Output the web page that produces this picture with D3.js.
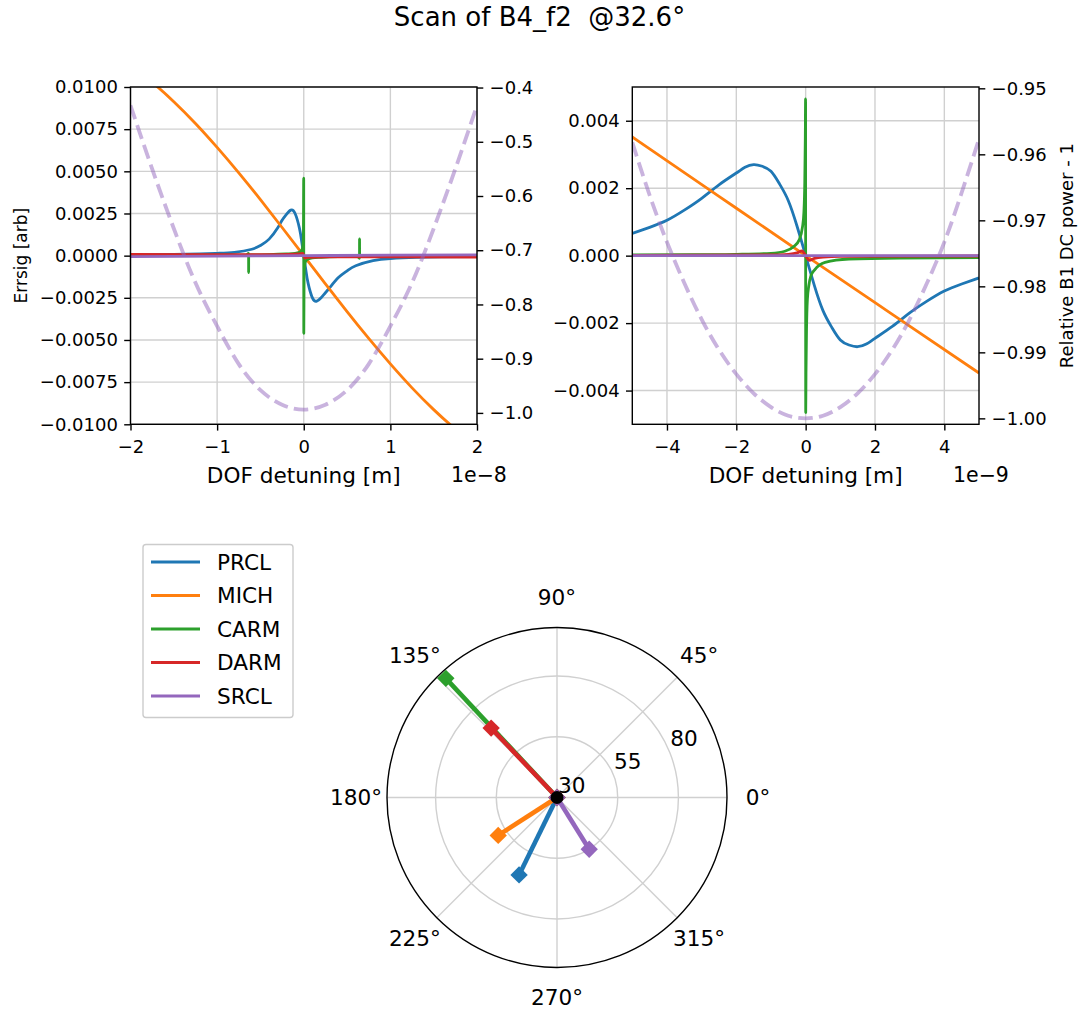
<!DOCTYPE html>
<html><head><meta charset="utf-8">
<script src="https://cdnjs.cloudflare.com/ajax/libs/d3/7.8.5/d3.min.js"></script>
<style>
body{margin:0;background:#fff}
text{font-family:"DejaVu Sans",sans-serif;fill:#000}
</style></head>
<body><svg id="c" width="1079" height="1009"></svg>
<script>
// ---------------- DATA ----------------
const seriesNames = ["PRCL","MICH","CARM","DARM","SRCL"];
const seriesColors = ["#1f77b4","#ff7f0e","#2ca02c","#d62728","#9467bd"];
const titleText = "Scan of B4_f2  @32.6°";

// Left panel (x in units of 1e-8 m)
const L_xTicks = [-2,-1,0,1,2];
const L_yTicks = [-0.01,-0.0075,-0.005,-0.0025,0,0.0025,0.005,0.0075,0.01];
const L_y2Ticks = [-1.0,-0.9,-0.8,-0.7,-0.6,-0.5,-0.4];

const L_PRCL_x = [-2,-1.5,-1.2,-1,-0.8,-0.6,-0.5,-0.4,-0.3,-0.25,-0.2,-0.15,-0.1,-0.05,-0.025,0,0.025,0.05,0.1,0.15,0.2,0.25,0.3,0.4,0.5,0.6,0.8,1,1.3,1.6,2];
const L_PRCL_y = [0.00004,0.00007,0.0001,0.00014,0.0002,0.00038,0.0006,0.00098,0.00165,0.0021,0.00245,0.0027,0.0025,0.00163,0.00088,0,-0.00088,-0.00163,-0.0025,-0.0027,-0.0025,-0.0022,-0.0019,-0.0013,-0.0009,-0.0006,-0.0003,-0.00017,-0.0001,-0.00007,-0.00005];

const L_MICH_x = [-2,-1.75,-1.5,-1.25,-1,-0.75,-0.5,-0.25,0,0.25,0.5,0.75,1,1.25,1.5,1.75,2];
const L_MICH_y = [0.01128,0.01028,0.00913,0.00784,0.00642,0.00491,0.00332,0.00167,0,-0.00167,-0.00332,-0.00491,-0.00642,-0.00784,-0.00913,-0.01028,-0.01128];

const L_CARM_x = [-2,-1.5,-1,-0.8,-0.66,-0.6366,-0.6362,-0.6358,-0.62,-0.4,-0.2,-0.1,-0.05,-0.02,-0.01,-0.004,-0.0005,0.0005,0.004,0.01,0.02,0.05,0.1,0.2,0.4,0.62,0.6438,0.6442,0.6446,0.66,0.8,1,1.5,2];
const L_CARM_y = [0.00002,0.00002,0.00003,0.00003,0.00004,0.00014,-0.001,0.00004,0.00004,0.00006,0.0001,0.00013,0.0002,0.00035,0.0006,0.0012,0.0046,-0.0046,-0.0012,-0.0006,-0.00035,-0.0002,-0.00013,-0.0001,-0.00006,-0.00004,-0.00016,0.001,-0.00004,-0.00004,-0.00003,-0.00003,-0.00002,-0.00002];

const L_DARM_x = [-2,-1,-0.3,-0.05,-0.01,0,0.01,0.05,0.3,1,2];
const L_DARM_y = [0.00007,0.00006,0.00006,0.0001,0.00014,0,-0.00014,-0.0001,-0.00007,-0.00007,-0.00008];

const L_SRCL_x = [-2,-1,0,1,2];
const L_SRCL_y = [-0.00006,-0.00003,0,0.00003,0.00005];

const L_POW_x = [-2,-1.75,-1.5,-1.25,-1,-0.75,-0.5,-0.25,0,0.25,0.5,0.75,1,1.25,1.5,1.75,2];
const L_POW_y = [-0.433,-0.55,-0.66,-0.76,-0.84,-0.91,-0.958,-0.985,-0.994,-0.985,-0.958,-0.91,-0.84,-0.76,-0.66,-0.55,-0.433];

// Right panel (x in units of 1e-9 m)
const R_xTicks = [-4,-2,0,2,4];
const R_yTicks = [-0.004,-0.002,0,0.002,0.004];
const R_y2Ticks = [-1.0,-0.99,-0.98,-0.97,-0.96,-0.95];

const R_PRCL_x = [-5,-4.5,-4,-3.5,-3,-2.5,-2,-1.75,-1.5,-1.25,-1,-0.75,-0.5,-0.25,0,0.25,0.5,0.75,1,1.25,1.5,1.75,2,2.5,3,3.5,4,4.5,5];
const R_PRCL_y = [0.00066,0.00084,0.00105,0.00135,0.0017,0.0021,0.00245,0.00262,0.0027,0.00265,0.0025,0.00212,0.00163,0.00088,0,-0.00088,-0.00163,-0.00212,-0.0025,-0.00265,-0.0027,-0.00262,-0.00245,-0.0021,-0.0017,-0.00135,-0.00105,-0.00084,-0.00066];

const R_MICH_x = [-5,-2.5,0,2.5,5];
const R_MICH_y = [0.00352,0.00176,0,-0.00174,-0.00348];

const R_CARM_x = [-5,-3,-2,-1,-0.6,-0.34,-0.19,-0.09,-0.05,-0.025,-0.01,-0.002,0.002,0.01,0.025,0.05,0.09,0.15,0.26,0.56,1.25,2.7,5];
const R_CARM_y = [0.00002,0.00003,0.00004,0.00007,0.00013,0.00027,0.00046,0.00086,0.0013,0.0022,0.0035,0.00465,-0.00465,-0.0035,-0.0022,-0.0013,-0.0009,-0.0006,-0.00042,-0.0002,-0.0001,-0.00007,-0.00006];

const R_DARM_x = [-5,-1,-0.5,-0.25,-0.1,0,0.1,0.25,0.5,1,5];
const R_DARM_y = [0.00001,0.00002,0.00004,0.00008,0.00014,0,-0.00014,-0.00008,-0.00004,-0.00002,-0.00001];

const R_SRCL_x = [-5,0,5];
const R_SRCL_y = [0,0,0];

const R_POW_x = [-5,-4.5,-4,-3.5,-3,-2.5,-2,-1.5,-1,-0.5,0,0.5,1,1.5,2,2.5,3,3.5,4,4.5,5];
const R_POW_y = [-0.9582,-0.9662,-0.9733,-0.9795,-0.985,-0.9896,-0.9933,-0.9962,-0.9983,-0.9996,-1.0,-0.9996,-0.9983,-0.9962,-0.9933,-0.9896,-0.985,-0.9795,-0.9733,-0.9658,-0.9577];

// Polar panel
const polarAngleDeg = [243.9, 212.8, 133.0, 133.5, 301.9];
const polarRadius   = [65.5, 58.8, 97.1, 69.4, 55.1];
const polarRTicks = [30,55,80];
const polarThetaTicks = [0,45,90,135,180,225,270,315];

// ---------------- DRAW ----------------
const svg = d3.select("#c");
const zip = (xs, ys) => xs.map((v,i)=>[v, ys[i]]);
const GRID = "#d0d0d0";
const curves = [d3.curveNatural, d3.curveNatural, d3.curveMonotoneX, d3.curveMonotoneX, d3.curveMonotoneX];

svg.append("text").attr("x",539.5).attr("y",26).attr("text-anchor","middle")
  .attr("xml:space","preserve").style("white-space","pre")
  .style("font-size","26px").text(titleText);

function panel(cfg){
  const g = svg.append("g");
  const x = d3.scaleLinear().domain(cfg.xDom).range([cfg.x0,cfg.x1]);
  const y = d3.scaleLinear().domain(cfg.yDom).range([cfg.y1,cfg.y0]);
  const y2 = d3.scaleLinear().domain(cfg.y2Dom).range([cfg.y1,cfg.y0]);
  const cid = "clip"+cfg.id;
  svg.append("clipPath").attr("id",cid).append("rect")
    .attr("x",cfg.x0).attr("y",cfg.y0).attr("width",cfg.x1-cfg.x0).attr("height",cfg.y1-cfg.y0);
  // grid
  g.selectAll(".gx").data(cfg.xTicks).join("line")
    .attr("x1",d=>x(d)).attr("x2",d=>x(d)).attr("y1",cfg.y0).attr("y2",cfg.y1)
    .attr("stroke",GRID).attr("stroke-width",1.4);
  g.selectAll(".gy").data(cfg.yTicks).join("line")
    .attr("y1",d=>y(d)).attr("y2",d=>y(d)).attr("x1",cfg.x0).attr("x2",cfg.x1)
    .attr("stroke",GRID).attr("stroke-width",1.4);
  // series
  const lg = g.append("g").attr("clip-path",`url(#${cid})`);
  cfg.series.forEach((s,i)=>{
    const line = d3.line().x(d=>x(d[0])).y(d=>y(d[1])).curve(curves[i]);
    lg.append("path").attr("d",line(zip(s[0],s[1]))).attr("fill","none")
      .attr("stroke",seriesColors[i]).attr("stroke-width",2.8).attr("stroke-linejoin","round");
  });
  const line2 = d3.line().x(d=>x(d[0])).y(d=>y2(d[1])).curve(d3.curveNatural);
  lg.append("path").attr("d",line2(zip(cfg.pow[0],cfg.pow[1]))).attr("fill","none")
    .attr("stroke","#9467bd").attr("stroke-opacity",0.5).attr("stroke-width",3.8)
    .attr("stroke-dasharray","14.5,6.3");
  // axes
  const fs = "18px";
  const ax = g.append("g").attr("transform",`translate(0,${cfg.y1})`)
    .call(d3.axisBottom(x).tickValues(cfg.xTicks).tickFormat(d3.format("d")).tickSize(6.3).tickPadding(10));
  const ay = g.append("g").attr("transform",`translate(${cfg.x0},0)`)
    .call(d3.axisLeft(y).tickValues(cfg.yTicks).tickFormat(d3.format(cfg.yFmt)).tickSize(6.3).tickPadding(6.3));
  const ay2 = g.append("g").attr("transform",`translate(${cfg.x1},0)`)
    .call(d3.axisRight(y2).tickValues(cfg.y2Ticks).tickFormat(d3.format(cfg.y2Fmt)).tickSize(6.3).tickPadding(6.3));
  [ax,ay,ay2].forEach(a=>{
    a.select(".domain").remove();
    a.selectAll("line").attr("stroke","#000").attr("stroke-width",1.4);
    a.selectAll("text").style("font-size",fs).style("font-family","DejaVu Sans").attr("fill","#000");
  });
  // spines
  g.append("rect").attr("x",cfg.x0).attr("y",cfg.y0).attr("width",cfg.x1-cfg.x0).attr("height",cfg.y1-cfg.y0)
    .attr("fill","none").attr("stroke","#000").attr("stroke-width",1.4);
  // labels
  g.append("text").attr("x",(cfg.x0+cfg.x1)/2).attr("y",483).attr("text-anchor","middle")
    .style("font-size","21.6px").text("DOF detuning [m]");
  g.append("text").attr("x",cfg.x1-26).attr("y",482).style("font-size","20.5px").text(cfg.offset);
  if(cfg.ylabel){
    g.append("text").attr("transform",`translate(${cfg.ylabelX},${(cfg.y0+cfg.y1)/2}) rotate(-90)`)
      .attr("text-anchor","middle").attr("dy","0.35em").style("font-size",cfg.ylabelSize).text(cfg.ylabel);
  }
  if(cfg.y2label){
    g.append("text").attr("transform",`translate(${cfg.y2labelX},${(cfg.y0+cfg.y1)/2}) rotate(-90)`)
      .attr("text-anchor","middle").attr("dy","0.35em").style("font-size","18px").text(cfg.y2label);
  }
}

panel({id:"L", x0:130.5, x1:477, y0:87, y1:424.3,
  xDom:[-2,2], yDom:[-0.01,0.01], y2Dom:[-1.021,-0.399],
  xTicks:L_xTicks, yTicks:L_yTicks, y2Ticks:L_y2Ticks, yFmt:".4f", y2Fmt:".1f",
  series:[[L_PRCL_x,L_PRCL_y],[L_MICH_x,L_MICH_y],[L_CARM_x,L_CARM_y],[L_DARM_x,L_DARM_y],[L_SRCL_x,L_SRCL_y]],
  pow:[L_POW_x,L_POW_y], offset:"1e\u22128",
  ylabel:"Errsig [arb]", ylabelX:21, ylabelSize:"17px"});

panel({id:"R", x0:632.3, x1:979, y0:87, y1:424.3,
  xDom:[-5,5], yDom:[-0.005,0.005], y2Dom:[-1.0009,-0.9498],
  xTicks:R_xTicks, yTicks:R_yTicks, y2Ticks:R_y2Ticks, yFmt:".3f", y2Fmt:".2f",
  series:[[R_PRCL_x,R_PRCL_y],[R_MICH_x,R_MICH_y],[R_CARM_x,R_CARM_y],[R_DARM_x,R_DARM_y],[R_SRCL_x,R_SRCL_y]],
  pow:[R_POW_x,R_POW_y], offset:"1e\u22129",
  y2label:"Relative B1 DC power - 1", y2labelX:1067});

// ---------------- POLAR ----------------
const pc = {x:557, y:797.5}, pR = 170;
const rS = d3.scaleLinear().domain([30,100]).range([0,pR]);
const pg = svg.append("g").attr("transform",`translate(${pc.x},${pc.y})`);
const pt = (deg, r) => [rS(r)*Math.cos(deg*Math.PI/180), -rS(r)*Math.sin(deg*Math.PI/180)];
pg.selectAll(".spoke").data(polarThetaTicks).join("line")
  .attr("x1",0).attr("y1",0)
  .attr("x2",d=>pR*Math.cos(d*Math.PI/180)).attr("y2",d=>-pR*Math.sin(d*Math.PI/180))
  .attr("stroke",GRID).attr("stroke-width",1.4);
pg.selectAll(".ring").data(polarRTicks.filter(d=>d>30)).join("circle")
  .attr("r",d=>rS(d)).attr("fill","none").attr("stroke",GRID).attr("stroke-width",1.4);
pg.append("circle").attr("r",pR).attr("fill","none").attr("stroke","#000").attr("stroke-width",1.4);
pg.selectAll(".tl").data(polarThetaTicks).join("text")
  .attr("x",d=>201*Math.cos(d*Math.PI/180)).attr("y",d=>-200*Math.sin(d*Math.PI/180))
  .attr("text-anchor","middle").attr("dy","0.34em").style("font-size","21.6px").text(d=>d+"°");
pg.selectAll(".rl").data(polarRTicks).join("text")
  .attr("x",d=>rS(d)*Math.cos(22.5*Math.PI/180)+1)
  .attr("y",d=>-rS(d)*Math.sin(22.5*Math.PI/180)-5)
  .style("font-size","21.6px").text(d=>d);
const diamond = d3.symbol().type(d3.symbolSquare).size(150);
seriesNames.forEach((n,i)=>{
  const p = pt(polarAngleDeg[i], polarRadius[i]);
  pg.append("line").attr("x1",0).attr("y1",0).attr("x2",p[0]).attr("y2",p[1])
    .attr("stroke",seriesColors[i]).attr("stroke-width",4.6);
  [[0,0],p].forEach(q=>{
    pg.append("path").attr("d",diamond()).attr("transform",`translate(${q[0]},${q[1]}) rotate(45)`)
      .attr("fill",seriesColors[i]);
  });
});
pg.append("circle").attr("r",6.5).attr("fill","#000");

// ---------------- LEGEND ----------------
const lgd = svg.append("g");
lgd.append("rect").attr("x",143).attr("y",544.5).attr("width",150).attr("height",173).attr("rx",3)
  .attr("fill","#fff").attr("stroke","#cccccc").attr("stroke-width",1.4);
seriesNames.forEach((n,i)=>{
  const yy = 562 + i*33.5;
  lgd.append("line").attr("x1",151).attr("x2",200).attr("y1",yy).attr("y2",yy)
    .attr("stroke",seriesColors[i]).attr("stroke-width",2.8);
  lgd.append("text").attr("x",217).attr("y",yy).attr("dy","0.36em").style("font-size","21.6px").text(n);
});
</script></body></html>
